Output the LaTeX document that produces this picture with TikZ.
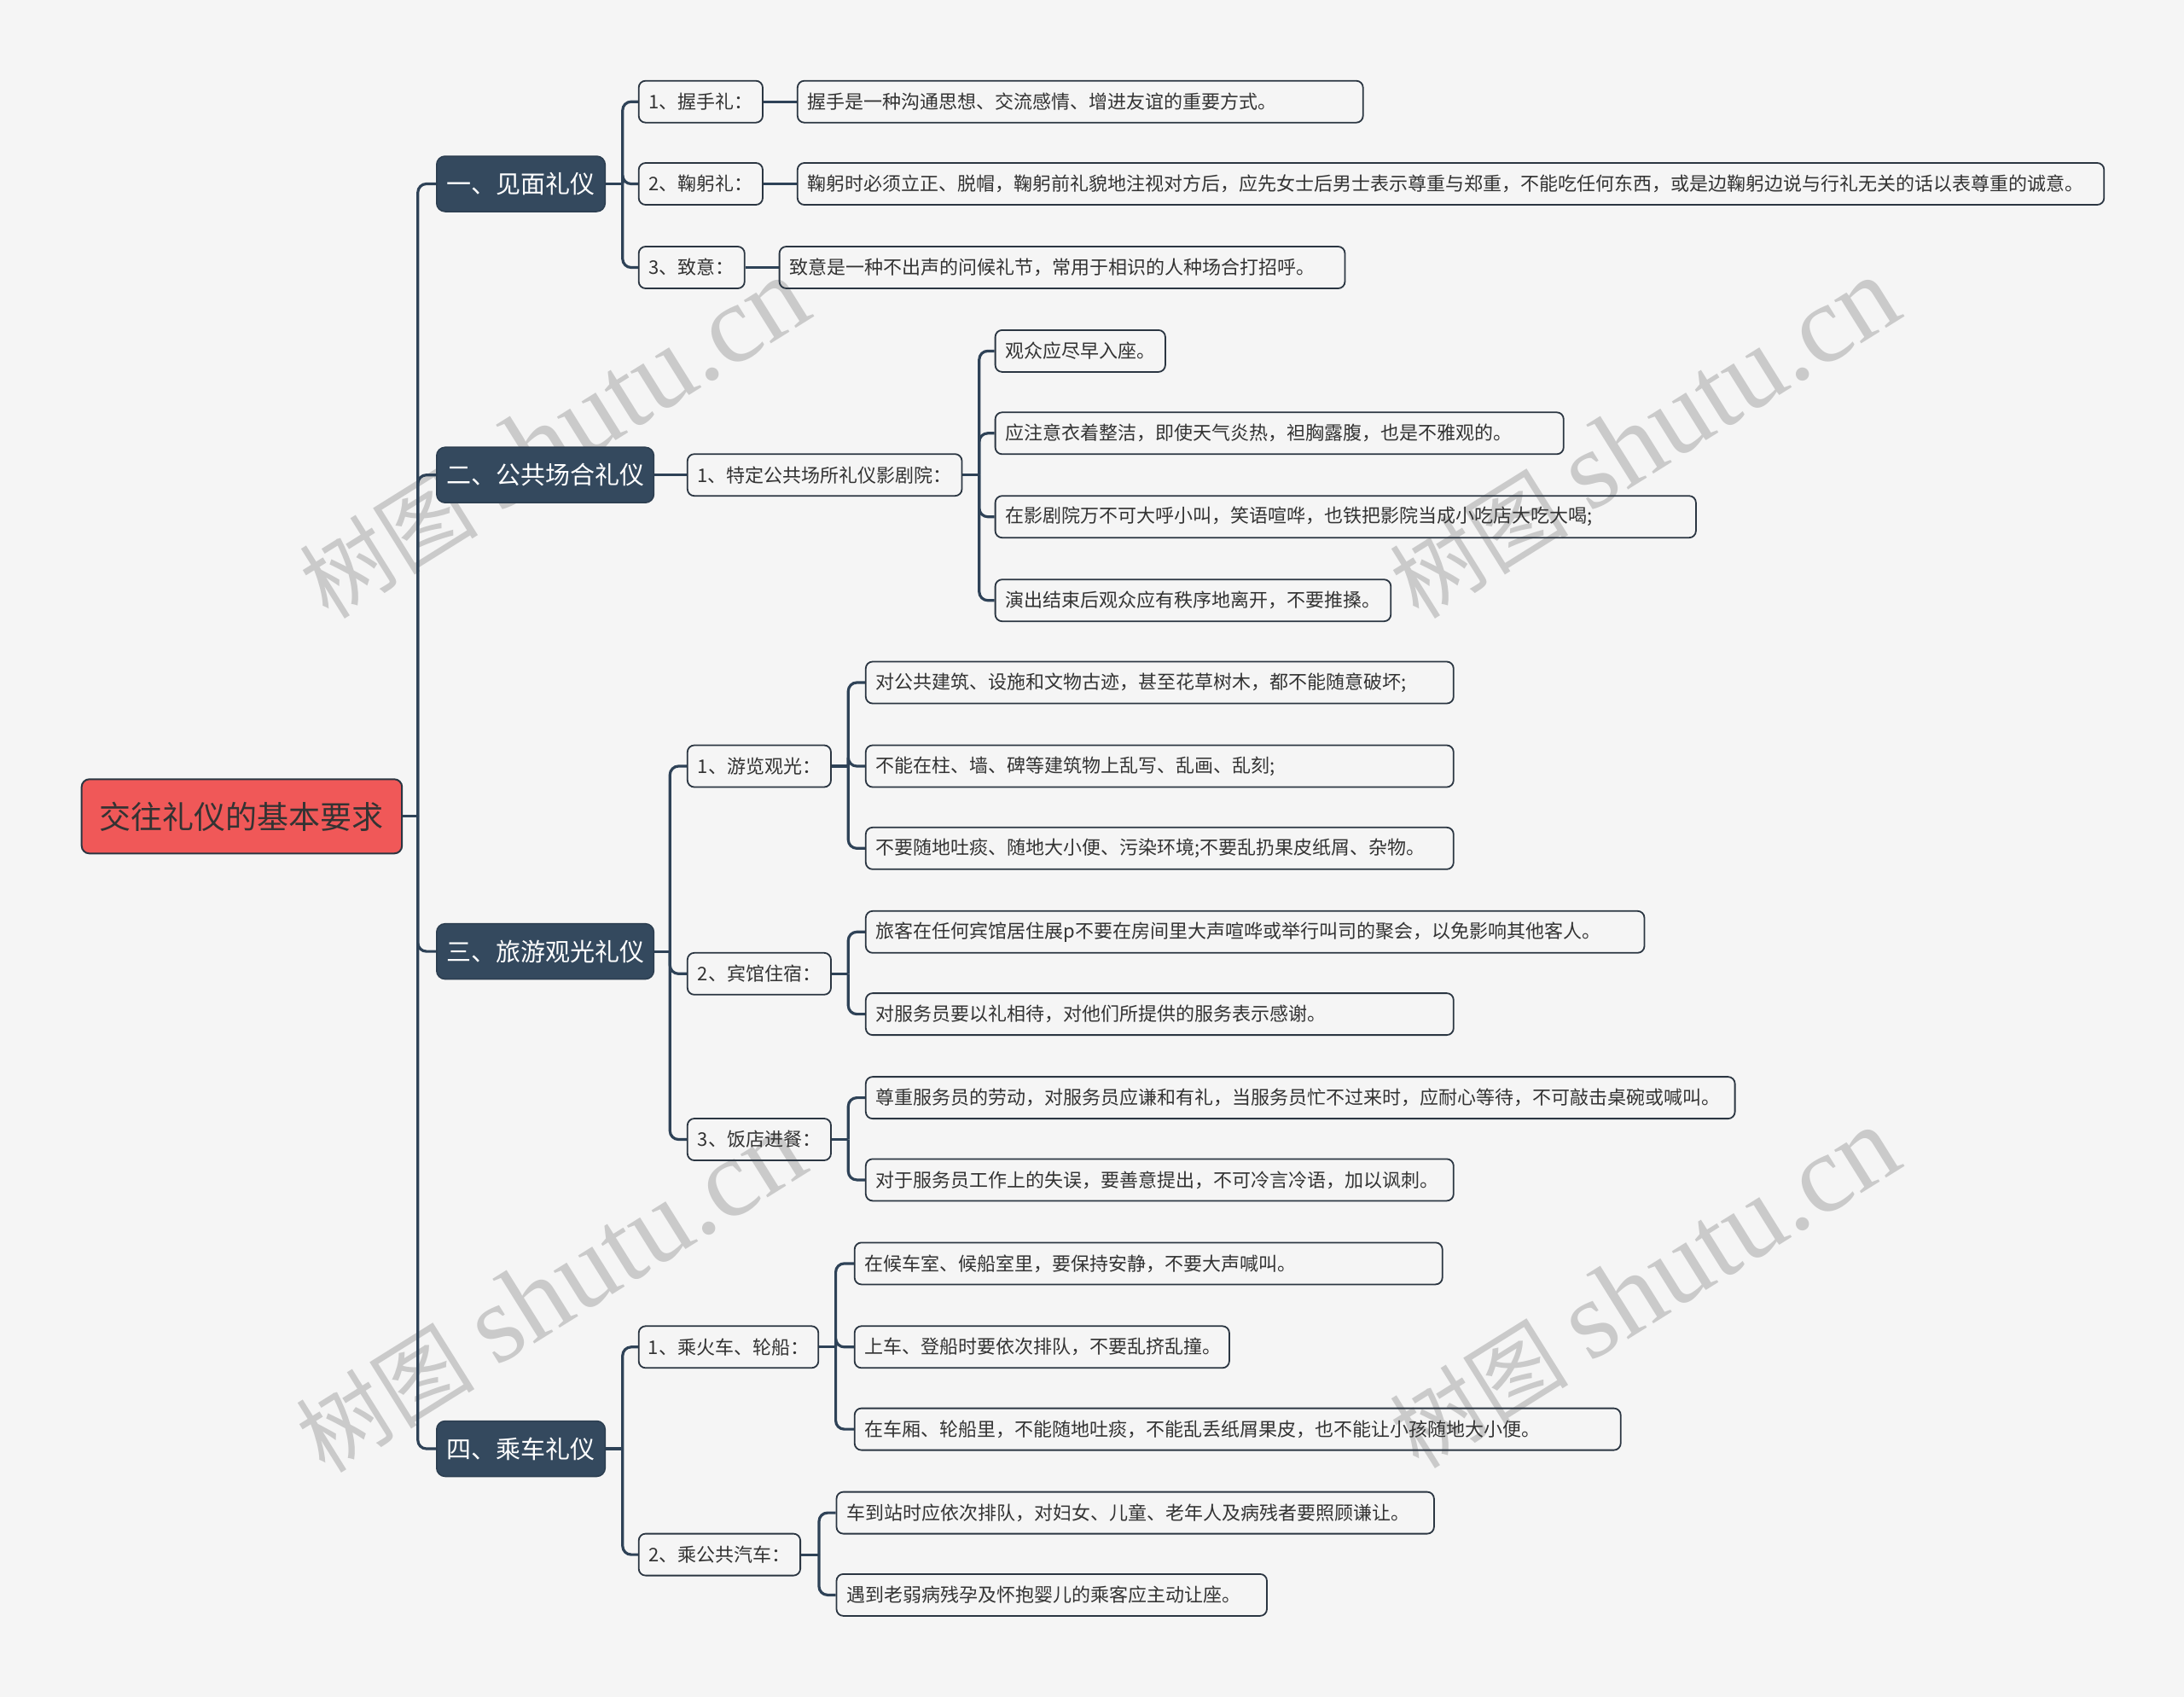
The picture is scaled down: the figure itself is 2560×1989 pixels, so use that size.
\documentclass[tikz,border=0pt]{standalone}
\usepackage{fontspec}
\setmainfont{Noto Sans CJK SC}
\newfontfamily\cjk{Noto Sans CJK SC}
\newfontfamily\wmlatin{Liberation Serif}
\definecolor{bg}{HTML}{F5F5F5}
\definecolor{navy}{HTML}{34495E}
\definecolor{linec}{HTML}{2E4257}
\definecolor{bordc}{HTML}{2B3642}
\definecolor{rootred}{HTML}{F05858}
\definecolor{txt}{HTML}{333333}
\definecolor{wmc}{HTML}{CACACA}
\begin{document}
\begin{tikzpicture}[x=1pt,y=-1pt,
  conn/.style={draw=linec, line width=3.2pt, rounded corners=10pt},
  rootbox/.style={draw=bordc, line width=2pt, fill=rootred, rounded corners=9pt,
    minimum width=375.5pt, minimum height=87pt, inner sep=0pt, anchor=west,
    text=txt, font=\fontsize{37}{44}\selectfont},
  lonebox/.style={draw=navy!85!black, line width=1.5pt, fill=navy, rounded corners=10pt,
    minimum height=65pt, inner sep=0pt, anchor=west,
    text=white, font=\fontsize{29}{35}\selectfont},
  ltwobox/.style={draw=bordc, line width=1.8pt, rounded corners=8pt,
    minimum height=49pt, inner xsep=3pt, inner ysep=0pt, anchor=west,
    text=txt, font=\fontsize{22}{26}\selectfont},
  leafbox/.style={draw=bordc, line width=1.8pt, rounded corners=8pt,
    minimum height=49pt, inner xsep=12pt, inner ysep=0pt, anchor=west,
    text=txt, font=\fontsize{22}{26}\selectfont},
  wm/.style={text=wmc, rotate=32, inner sep=0pt}
]
\fill[bg] (0,0) rectangle (2560,1989);
\useasboundingbox (0,0) rectangle (2560,1989);

% watermarks (behind)
\foreach \wx/\wy in {649/514, 1927/514, 645/1515, 1927/1510}{
  \node[wm] (wm\wx\wy) at (\wx,\wy) {\fontsize{105}{110}\selectfont\cjk 树图\hspace{0.25em}{\fontsize{130}{140}\selectfont\wmlatin shutu.cn}};
}

% root
\node[rootbox] (root) at (94.7,956.8) {交往礼仪的基本要求};

% level 1
\node[lonebox, minimum width=197.6pt] (n1) at (511,215.5) {一、见面礼仪};
\node[lonebox, minimum width=254.7pt] (n2) at (511,556.7) {二、公共场合礼仪};
\node[lonebox, minimum width=254.7pt] (n3) at (511,1115.1) {三、旅游观光礼仪};
\node[lonebox, minimum width=197.6pt] (n4) at (511,1698.0) {四、乘车礼仪};

% level 2
\node[ltwobox, minimum width=145.3pt] (a1) at (747.8,119.2) {1、握手礼：};
\node[ltwobox, minimum width=145.3pt] (a2) at (747.8,215.5) {2、鞠躬礼：};
\node[ltwobox, minimum width=124.1pt] (a3) at (747.8,313.5) {3、致意：};
\node[ltwobox, minimum width=321.7pt] (b1) at (804.9,556.7) {1、特定公共场所礼仪影剧院：};
\node[ltwobox, minimum width=168.2pt] (c1) at (804.9,898.0) {1、游览观光：};
\node[ltwobox, minimum width=168.2pt] (c2) at (804.9,1141.3) {2、宾馆住宿：};
\node[ltwobox, minimum width=168.2pt] (c3) at (804.9,1335.5) {3、饭店进餐：};
\node[ltwobox, minimum width=210.6pt] (d1) at (747.8,1578.8) {1、乘火车、轮船：};
\node[ltwobox, minimum width=189.4pt] (d2) at (747.8,1822.1) {2、乘公共汽车：};

% leaves group 1
\node[leafbox] (l1a) at (933.9,119.2) {\makebox[638.9pt][l]{握手是一种沟通思想、交流感情、增进友谊的重要方式。}};
\node[leafbox] (l1b) at (933.9,215.5) {\makebox[1507.5pt][l]{鞠躬时必须立正、脱帽，鞠躬前礼貌地注视对方后，应先女士后男士表示尊重与郑重，不能吃任何东西，或是边鞠躬边说与行礼无关的话以表尊重的诚意。}};
\node[leafbox] (l1c) at (912.7,313.5) {\makebox[638.9pt][l]{致意是一种不出声的问候礼节，常用于相识的人种场合打招呼。}};

% leaves group 2
\node[leafbox] (l2a) at (1165.7,411.4) {\makebox[175.3pt][l]{观众应尽早入座。}};
\node[leafbox] (l2b) at (1165.7,507.8) {\makebox[642.2pt][l]{应注意衣着整洁，即使天气炎热，袒胸露腹，也是不雅观的。}};
\node[leafbox] (l2c) at (1165.7,605.7) {\makebox[797.3pt][l]{在影剧院万不可大呼小叫，笑语喧哗，也铁把影院当成小吃店大吃大喝;}};
\node[leafbox] (l2d) at (1165.7,703.7) {\makebox[439.7pt][l]{演出结束后观众应有秩序地离开，不要推搡。}};

% leaves group 3
\node[leafbox] (l3a) at (1013.9,800.0) {\makebox[665pt][l]{对公共建筑、设施和文物古迹，甚至花草树木，都不能随意破坏;}};
\node[leafbox] (l3b) at (1013.9,898.0) {\makebox[665pt][l]{不能在柱、墙、碑等建筑物上乱写、乱画、乱刻;}};
\node[leafbox] (l3c) at (1013.9,994.3) {\makebox[665pt][l]{不要随地吐痰、随地大小便、污染环境;不要乱扔果皮纸屑、杂物。}};
\node[leafbox] (l3d) at (1013.9,1092.3) {\makebox[888.7pt][l]{旅客在任何宾馆居住展p不要在房间里大声喧哗或举行叫司的聚会，以免影响其他客人。}};
\node[leafbox] (l3e) at (1013.9,1188.6) {\makebox[665pt][l]{对服务员要以礼相待，对他们所提供的服务表示感谢。}};
\node[leafbox] (l3f) at (1013.9,1286.6) {\makebox[994.8pt][l]{尊重服务员的劳动，对服务员应谦和有礼，当服务员忙不过来时，应耐心等待，不可敲击桌碗或喊叫。}};
\node[leafbox] (l3g) at (1013.9,1382.9) {\makebox[665pt][l]{对于服务员工作上的失误，要善意提出，不可冷言冷语，加以讽刺。}};

% leaves group 4
\node[leafbox] (l4a) at (1000.8,1480.9) {\makebox[665pt][l]{在候车室、候船室里，要保持安静，不要大声喊叫。}};
\node[leafbox] (l4b) at (1000.8,1578.8) {\makebox[415.2pt][l]{上车、登船时要依次排队，不要乱挤乱撞。}};
\node[leafbox] (l4c) at (1000.8,1675.1) {\makebox[874pt][l]{在车厢、轮船里，不能随地吐痰，不能乱丢纸屑果皮，也不能让小孩随地大小便。}};
\node[leafbox] (l4d) at (979.6,1773.1) {\makebox[676.4pt][l]{车到站时应依次排队，对妇女、儿童、老年人及病残者要照顾谦让。}};
\node[leafbox] (l4e) at (979.6,1869.4) {\makebox[480.5pt][l]{遇到老弱病残孕及怀抱婴儿的乘客应主动让座。}};

% connectors root -> level 1
\coordinate (s0) at (489.8,956.8);
\draw[conn] (root.east) -- (s0);
\foreach \n in {n1,n2,n3,n4} \draw[conn] (s0) |- (\n.west);

% group 1
\coordinate (s1) at (729.8,215.5);
\draw[conn] (n1.east) -- (s1);
\foreach \n in {a1,a2,a3} \draw[conn] (s1) |- (\n.west);
\draw[conn] (a1.east) -- (l1a.west);
\draw[conn] (a2.east) -- (l1b.west);
\draw[conn] (a3.east) -- (l1c.west);

% group 2
\draw[conn] (n2.east) -- (b1.west);
\coordinate (s2) at (1147.8,556.7);
\draw[conn] (b1.east) -- (s2);
\foreach \n in {l2a,l2b,l2c,l2d} \draw[conn] (s2) |- (\n.west);

% group 3
\coordinate (s3) at (785.3,1115.1);
\draw[conn] (n3.east) -- (s3);
\foreach \n in {c1,c2,c3} \draw[conn] (s3) |- (\n.west);
\coordinate (s31) at (994.3,898.0);
\draw[conn] (c1.east) -- (s31);
\foreach \n in {l3a,l3b,l3c} \draw[conn] (s31) |- (\n.west);
\coordinate (s32) at (994.3,1141.3);
\draw[conn] (c2.east) -- (s32);
\foreach \n in {l3d,l3e} \draw[conn] (s32) |- (\n.west);
\coordinate (s33) at (994.3,1335.5);
\draw[conn] (c3.east) -- (s33);
\foreach \n in {l3f,l3g} \draw[conn] (s33) |- (\n.west);

% group 4
\coordinate (s4) at (729.8,1698.0);
\draw[conn] (n4.east) -- (s4);
\foreach \n in {d1,d2} \draw[conn] (s4) |- (\n.west);
\coordinate (s41) at (979.6,1578.8);
\draw[conn] (d1.east) -- (s41);
\foreach \n in {l4a,l4b,l4c} \draw[conn] (s41) |- (\n.west);
\coordinate (s42) at (960,1822.1);
\draw[conn] (d2.east) -- (s42);
\foreach \n in {l4d,l4e} \draw[conn] (s42) |- (\n.west);
\end{tikzpicture}
\end{document}
